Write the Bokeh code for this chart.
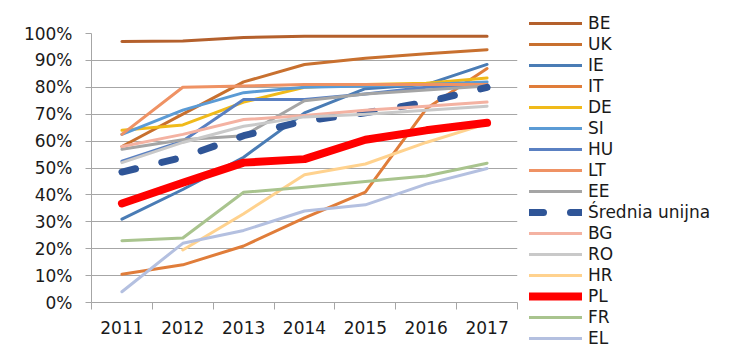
from bokeh.plotting import figure
from bokeh.models import FixedTicker, Legend, LegendItem, Range1d, NumeralTickFormatter
from bokeh.embed import file_html
from bokeh.resources import INLINE

years = [2011, 2012, 2013, 2014, 2015, 2016, 2017]

BE = [97, 97.2, 98.5, 99, 99, 99, 99]
UK = [58, 70, 82, 88.5, 90.8, 92.5, 94]
IE = [31, 42, 54, 70.5, 79.5, 81, 88.5]
IT = [10.5, 14, 21, 31.5, 41, 72, 87]
DE = [64, 66, 74.5, 80, 81, 81.5, 83.5]
SI = [62.5, 71.5, 78, 80, 80.5, 81, 82]
HU = [52.5, 60, 75.5, 75.5, 77.5, 80, 81]
LT = [62.5, 80, 80.5, 81, 81, 81, 81]
EE = [57, 60.5, 62, 75, 77.5, 79, 80.5]
AVG = [48.5, 54, 62, 67.5, 70.5, 74.5, 80]
BG = [58, 62.5, 68, 69.5, 71.5, 73, 74.5]
RO = [52, 59.5, 65.5, 69, 70, 71.5, 73]
HR_years = [2012, 2013, 2014, 2015, 2016, 2017]
HR = [19.5, 33, 47.5, 51.5, 59.5, 66.5]
PL = [36.8, 44.5, 52, 53.3, 60.5, 64, 66.8]
FR = [23, 24, 41, 42.8, 45, 47, 51.8]
EL = [4, 22, 26.8, 34, 36.3, 44, 49.8]

series = [
    ("BE", years, BE, "#B4602C", 3, None),
    ("UK", years, UK, "#C8702F", 3, None),
    ("IE", years, IE, "#4A7CB5", 3, None),
    ("IT", years, IT, "#E07D3A", 3, None),
    ("DE", years, DE, "#F0BA1A", 3, None),
    ("SI", years, SI, "#5B9BD5", 3, None),
    ("HU", years, HU, "#5A80C2", 3, None),
    ("LT", years, LT, "#EF9264", 3, None),
    ("EE", years, EE, "#A5A5A5", 3, None),
    ("Średnia unijna", years, AVG, "#2F5597", 7, "14 27"),
    ("BG", years, BG, "#F4B2A2", 3, None),
    ("RO", years, RO, "#C9C9C9", 3, None),
    ("HR", HR_years, HR, "#FFD28E", 3, None),
    ("PL", years, PL, "#FF0000", 8, None),
    ("FR", years, FR, "#A9C48E", 3, None),
    ("EL", years, EL, "#B4C0E0", 3, None),
]

FONT = "DejaVu Sans"
FS = "17px"

p = figure(frame_width=426, frame_height=269, output_backend="svg", toolbar_location=None,
           x_range=Range1d(2010.5, 2017.5), y_range=Range1d(0, 1))
p.min_border_left = 91
p.min_border_top = 33
p.min_border_bottom = 49
p.min_border_right = 205
p.outline_line_color = None
p.background_fill_color = "white"
p.border_fill_color = "white"

items = []
for name, xs, ys, color, w, dash in series:
    kw = dict(line_color=color, line_width=w, line_join="round", line_cap="round")
    if dash:
        kw["line_dash"] = dash
    r = p.line(xs, [v / 100 for v in ys], **kw)
    items.append(LegendItem(label=name, renderers=[r]))

# axes
p.xaxis.ticker = FixedTicker(ticks=years, minor_ticks=[y - 0.5 for y in years] + [2017.5])
p.xaxis.major_tick_out = 0
p.xaxis.major_tick_in = 0
p.xaxis.minor_tick_out = 7
p.xaxis.minor_tick_in = 0
p.xaxis.minor_tick_line_color = "#A6A6A6"
p.xaxis.axis_line_color = "#A6A6A6"
p.xaxis.major_label_standoff = 11
p.xaxis.major_label_text_font = FONT
p.xaxis.major_label_text_font_size = FS
p.xaxis.major_label_text_color = "#1a1a1a"

p.yaxis.ticker = FixedTicker(ticks=[i / 10 for i in range(11)])
p.yaxis.formatter = NumeralTickFormatter(format="0%")
p.yaxis.major_tick_out = 6
p.yaxis.major_tick_in = 0
p.yaxis.minor_tick_line_color = None
p.yaxis.major_tick_line_color = "#A6A6A6"
p.yaxis.axis_line_color = "#A6A6A6"
p.yaxis.major_label_standoff = 13
p.yaxis.major_label_text_font = FONT
p.yaxis.major_label_text_font_size = FS
p.yaxis.major_label_text_color = "#1a1a1a"

p.xgrid.grid_line_color = None
p.ygrid.grid_line_color = "#A6A6A6"
p.ygrid.grid_line_width = 1

legend = Legend(items=items, location=(12, -46))
legend.border_line_color = None
legend.background_fill_alpha = 0
legend.padding = 0
legend.margin = 0
legend.spacing = 1
legend.glyph_width = 53
legend.glyph_height = 16
legend.label_height = 16
legend.label_standoff = 6
legend.label_text_font = FONT
legend.label_text_font_size = FS
legend.label_text_color = "#1a1a1a"
legend.label_text_baseline = "middle"
p.add_layout(legend, "right")

open("out.html", "w").write(file_html(p, INLINE))
